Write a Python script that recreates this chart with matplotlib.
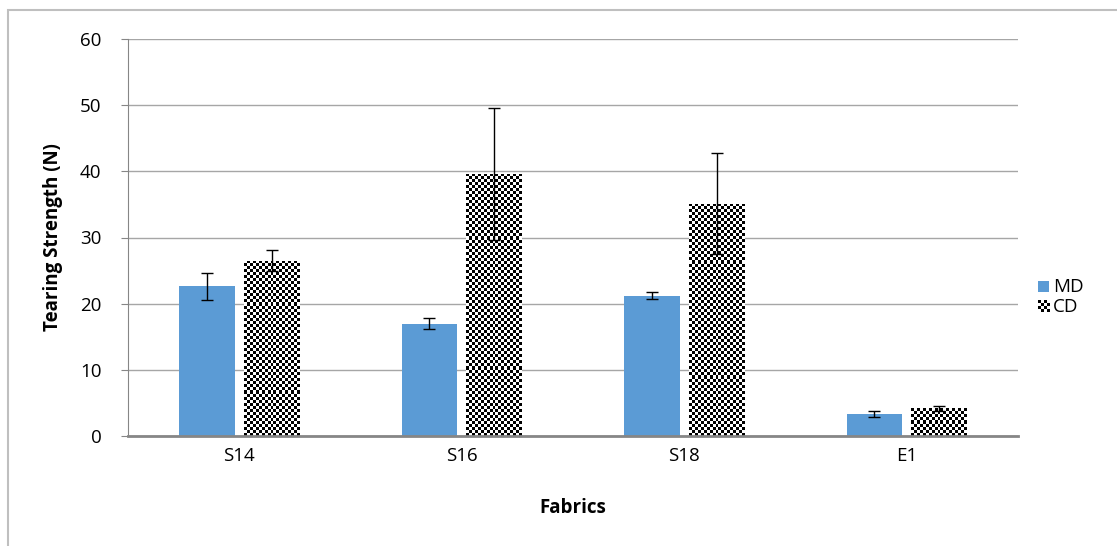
import numpy as np
import matplotlib
matplotlib.use("Agg")
import matplotlib.pyplot as plt
from matplotlib.patches import Rectangle

categories = ["S14", "S16", "S18", "E1"]
md_values = [22.6, 17.0, 21.2, 3.3]
md_errors = [2.0, 0.9, 0.5, 0.5]
cd_values = [26.5, 39.6, 35.1, 4.2]
cd_errors = [1.6, 10.0, 7.6, 0.4]
series_labels = ["MD", "CD"]
yticks = [0, 10, 20, 30, 40, 50, 60]

plt.rcParams['font.family'] = ['Open Sans', 'DejaVu Sans']

W, H = 1117, 546
fig = plt.figure(figsize=(W / 100, H / 100), dpi=100)
fig.patch.set_facecolor("white")

# outer chart border
fig.add_artist(Rectangle((8 / W, -0.05), 1.2, (H - 10) / H + 0.05, transform=fig.transFigure,
                         fill=False, edgecolor="#BFBFBF", linewidth=1.5))

left, right = 128 / W, 1018 / W
bottom, top = (H - 436) / H, (H - 39) / H
ax = fig.add_axes([left, bottom, right - left, top - bottom])

x = np.arange(len(categories))
bw = 0.25
off = 0.145
blue = "#5B9BD5"
fs = 13.5

ax.bar(x - off, md_values, bw, color=blue, zorder=2)
ax.errorbar(x - off, md_values, yerr=md_errors, fmt="none", ecolor="black",
            elinewidth=1, capsize=4, capthick=1, zorder=4)

cd_bars = ax.bar(x + off, cd_values, bw, color="white", zorder=2)
ax.errorbar(x + off, cd_values, yerr=cd_errors, fmt="none", ecolor="black",
            elinewidth=1, capsize=4, capthick=1, zorder=4)

ax.set_xlim(-0.5, len(categories) - 0.5)
ax.set_ylim(0, 60)
ax.set_yticks(yticks)
ax.set_xticks(x)
ax.set_xticklabels(categories, fontsize=fs)
ax.tick_params(axis="x", length=0, pad=8)
ax.tick_params(axis="y", length=5, color="#868686", labelsize=fs, pad=14, direction="out")
ax.yaxis.grid(True, color="#A6A6A6", linewidth=1, zorder=0)
ax.set_axisbelow(True)
for s in ["top", "right"]:
    ax.spines[s].set_visible(False)
ax.spines["left"].set_color("#868686")
ax.spines["bottom"].set_color("#868686")
ax.spines["bottom"].set_linewidth(2)
ax.spines["bottom"].set_zorder(5)

ax.set_ylabel("Tearing Strength (N)", fontsize=fs, fontweight="bold", labelpad=12)
ax.set_xlabel("Fabrics", fontsize=fs, fontweight="bold", labelpad=24)

# checker fill for CD bars
fig.canvas.draw()
cell = 3.0
for b in cd_bars:
    x0, y0 = b.get_x(), b.get_y()
    w, h = b.get_width(), b.get_height()
    p0 = ax.transData.transform((x0, y0))
    p1 = ax.transData.transform((x0 + w, y0 + h))
    nc = max(1, int(round((p1[0] - p0[0]) / cell)))
    nr = max(1, int(round((p1[1] - p0[1]) / cell)))
    checker = (np.add.outer(np.arange(nr), np.arange(nc)) % 2).astype(float)
    im = ax.imshow(checker, cmap="gray", vmin=0, vmax=1, extent=(x0, x0 + w, y0, y0 + h),
                   interpolation="nearest", aspect="auto", origin="lower", zorder=3)
    im.set_clip_path(b)
ax.set_xlim(-0.5, len(categories) - 0.5)
ax.set_ylim(0, 60)

# legend (manual)
fig.add_artist(Rectangle((1038 / W, (H - 292) / H), 11 / W, 11 / H, transform=fig.transFigure,
                         facecolor=blue, edgecolor="none"))
fig.text(1053 / W, (H - 287) / H, series_labels[0], fontsize=fs, va="center", ha="left")
lax = fig.add_axes([1038 / W, (H - 312) / H, 12 / W, 12 / H])
lchk = (np.add.outer(np.arange(4), np.arange(4)) % 2).astype(float)
lax.imshow(lchk, cmap="gray", vmin=0, vmax=1, interpolation="nearest", aspect="auto")
lax.axis("off")
fig.text(1053 / W, (H - 307) / H, series_labels[1], fontsize=fs, va="center", ha="left")

fig.savefig("out.png", dpi=100, facecolor="white")
